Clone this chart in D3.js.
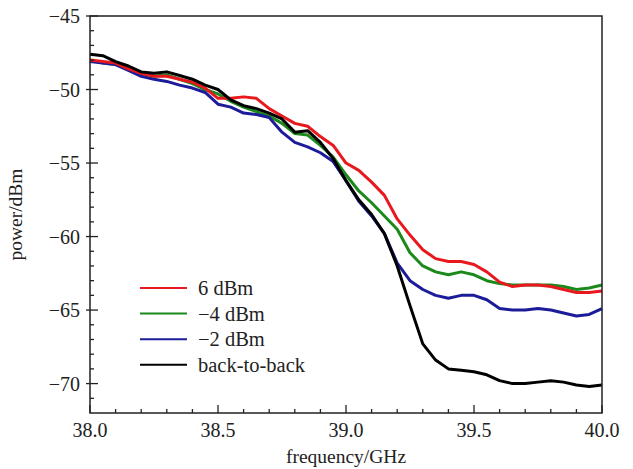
<!DOCTYPE html>
<html>
<head>
<meta charset="utf-8">
<script src="https://cdn.jsdelivr.net/npm/d3@7"></script>
<style>
	body { margin: 0; background: #fff; }
	text { font-family: "Liberation Serif", "Times New Roman", serif; fill: #222; }
</style>
</head>
<body>
<div id="wrapper"></div>
<script>

// 1. Data (0.05 GHz steps)

const freq = d3.range(0, 41).map(i => +(38 + i * 0.05).toFixed(2));

const power6 = [-48.0, -48.1, -48.2, -48.6, -48.9, -49.1, -49.1, -49.3, -49.5, -49.9,
	-50.6, -50.6, -50.5, -50.6, -51.3, -51.8, -52.3, -52.5, -53.2, -53.8,
	-55.0, -55.5, -56.3, -57.2, -58.8, -59.9, -60.9, -61.5, -61.7, -61.7,
	-61.9, -62.4, -63.1, -63.4, -63.3, -63.3, -63.4, -63.6, -63.8, -63.8, -63.7];

const powerM4 = [-48.0, -48.2, -48.3, -48.6, -48.9, -49.1, -49.0, -49.3, -49.6, -50.0,
	-50.3, -50.8, -51.2, -51.5, -51.8, -52.3, -53.0, -53.1, -53.8, -54.6,
	-55.8, -56.9, -57.7, -58.6, -59.5, -61.1, -62.0, -62.4, -62.6, -62.4,
	-62.6, -63.0, -63.2, -63.3, -63.3, -63.3, -63.3, -63.4, -63.6, -63.5, -63.3];

const powerM2 = [-48.1, -48.2, -48.3, -48.7, -49.1, -49.3, -49.45, -49.7, -49.9, -50.2,
	-51.0, -51.2, -51.6, -51.7, -51.9, -52.9, -53.6, -53.9, -54.3, -54.9,
	-56.2, -57.6, -58.6, -59.8, -61.8, -63.0, -63.6, -64.0, -64.2, -64.0,
	-64.0, -64.3, -64.9, -65.0, -65.0, -64.9, -65.0, -65.2, -65.4, -65.3, -64.9];

const powerB2B = [-47.6, -47.7, -48.1, -48.4, -48.8, -48.9, -48.8, -49.05, -49.3, -49.7,
	-50.0, -50.7, -51.1, -51.3, -51.6, -52.0, -52.9, -52.8, -53.6, -54.7,
	-56.2, -57.5, -58.5, -59.8, -62.0, -64.7, -67.3, -68.4, -69.0, -69.1,
	-69.2, -69.4, -69.8, -70.0, -70.0, -69.9, -69.8, -69.9, -70.1, -70.2, -70.1];

const seriesNames = ["6 dBm", "\u22124 dBm", "\u22122 dBm", "back-to-back"];
const seriesColors = ["#e8191e", "#1b8a1b", "#1c1c9a", "#000000"];
const seriesValues = [power6, powerM4, powerM2, powerB2B];

// 2. Dimensions

let dimensions = {
	width: 633,
	height: 469,
	margin: { top: 16, right: 31, bottom: 56, left: 90 }
};
dimensions.boundedWidth = dimensions.width - dimensions.margin.left - dimensions.margin.right;
dimensions.boundedHeight = dimensions.height - dimensions.margin.top - dimensions.margin.bottom;

const wrapper = d3.select("#wrapper")
	.append("svg")
	.attr("width", dimensions.width)
	.attr("height", dimensions.height);

const bounds = wrapper.append("g")
	.attr("transform", `translate(${dimensions.margin.left}, ${dimensions.margin.top})`);

// 3. Scales

const xScale = d3.scaleLinear()
	.domain([38, 40])
	.range([0, dimensions.boundedWidth]);

const yScale = d3.scaleLinear()
	.domain([-72, -45])
	.range([dimensions.boundedHeight, 0]);

// 4. Lines (drawing order: green, blue, red, black on top)

const lineGenerator = d3.line()
	.x((d, i) => xScale(freq[i]))
	.y(d => yScale(d));

[1, 2, 0, 3].forEach(k => {
	bounds.append("path")
		.attr("d", lineGenerator(seriesValues[k]))
		.attr("fill", "none")
		.attr("stroke", seriesColors[k])
		.attr("stroke-width", 3)
		.attr("stroke-linejoin", "round");
});

// 5. Frame and ticks

const axisColor = "#222";

bounds.append("rect")
	.attr("width", dimensions.boundedWidth)
	.attr("height", dimensions.boundedHeight)
	.attr("fill", "none")
	.attr("stroke", axisColor)
	.attr("stroke-width", 1.5);

const xMinor = d3.range(38, 40.001, 0.1).map(d => +d.toFixed(1));
const xMajor = [38.0, 38.5, 39.0, 39.5, 40.0];
const yMinor = d3.range(-71, -44, 1);
const yMajor = [-70, -65, -60, -55, -50, -45];

bounds.selectAll(".x-tick")
	.data(xMinor)
	.join("line")
	.attr("class", "x-tick")
	.attr("x1", d => xScale(d))
	.attr("x2", d => xScale(d))
	.attr("y1", dimensions.boundedHeight)
	.attr("y2", d => dimensions.boundedHeight - (xMajor.includes(d) ? 8 : 4))
	.attr("stroke", axisColor)
	.attr("stroke-width", 1.3);

bounds.selectAll(".y-tick")
	.data(yMinor)
	.join("line")
	.attr("class", "y-tick")
	.attr("x1", d => yMajor.includes(d) ? -4 : 0)
	.attr("x2", d => yMajor.includes(d) ? 8 : 4)
	.attr("y1", d => yScale(d))
	.attr("y2", d => yScale(d))
	.attr("stroke", axisColor)
	.attr("stroke-width", 1.3);

bounds.selectAll(".x-label")
	.data(xMajor)
	.join("text")
	.attr("class", "x-label")
	.attr("x", d => xScale(d))
	.attr("y", dimensions.boundedHeight + 24)
	.attr("text-anchor", "middle")
	.style("font-size", "20px")
	.text(d => d3.format(".1f")(d));

bounds.selectAll(".y-label")
	.data(yMajor)
	.join("text")
	.attr("class", "y-label")
	.attr("x", -10)
	.attr("y", d => yScale(d))
	.attr("dy", "0.35em")
	.attr("text-anchor", "end")
	.style("font-size", "20px")
	.text(d => d3.format("")(d).replace("-", "\u2212"));

bounds.append("text")
	.attr("x", dimensions.boundedWidth / 2)
	.attr("y", dimensions.boundedHeight + 50)
	.attr("text-anchor", "middle")
	.style("font-size", "19.5px")
	.text("frequency/GHz");

bounds.append("text")
	.attr("transform", `translate(${-68}, ${dimensions.boundedHeight / 2}) rotate(-90)`)
	.attr("text-anchor", "middle")
	.style("font-size", "19.5px")
	.text("power/dBm");

// 6. Legend

const legendGroup = bounds.append("g")
	.attr("transform", `translate(${50}, ${272})`);

const legendItems = legendGroup.selectAll(".legend-item")
	.data(seriesNames)
	.join("g")
	.attr("class", "legend-item")
	.attr("transform", (d, i) => `translate(0, ${i * 25.6})`);

legendItems.append("line")
	.attr("x1", 0)
	.attr("x2", 47)
	.attr("stroke", (d, i) => seriesColors[i])
	.attr("stroke-width", 2);

legendItems.append("text")
	.attr("x", 58)
	.attr("dy", "0.35em")
	.style("font-size", "20.5px")
	.text(d => d);

</script>
</body>
</html>
